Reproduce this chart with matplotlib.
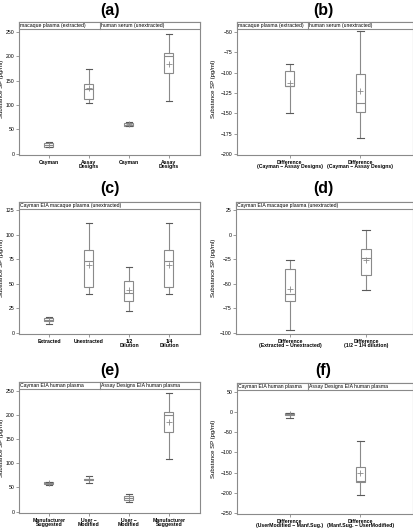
import matplotlib
matplotlib.use("Agg")
import matplotlib.pyplot as plt
from matplotlib.patches import Rectangle

plt.rcParams['font.family'] = ['Liberation Sans', 'DejaVu Sans']

# ---------------- data ----------------
# panel (a)
a_labels = ["Cayman", "Assay\nDesigns", "Cayman", "Assay\nDesigns"]
a_headers = ["macaque plasma (extracted)", "human serum (unextracted)"]
a_whislo = [13, 103, 56, 109]
a_q1 = [14, 113, 57, 165]
a_med = [17, 132, 59, 201]
a_q3 = [22, 144, 62, 206]
a_whishi = [24, 173, 64, 245]
a_mean = [18, 134, 60, 185]
a_yticks = [0, 50, 100, 150, 200, 250]

# panel (b)
b_labels = ["Difference\n(Cayman \u2212 Assay Designs)", "Difference\n(Cayman \u2212 Assay Designs)"]
b_headers = ["macaque plasma (extracted)", "human serum (unextracted)"]
b_whislo = [-149.5, -180]
b_q1 = [-117, -149]
b_med = [-116.5, -137]
b_q3 = [-98, -102]
b_whishi = [-89.5, -49]
b_mean = [-113, -123]
b_yticks = [-200, -175, -150, -125, -100, -75, -50]

# panel (c)
c_labels = ["Extracted", "Unextracted", "1/2\nDilution", "1/4\nDilution"]
c_headers = ["Cayman EIA macaque plasma (unextracted)"]
c_whislo = [9, 39.5, 22, 39.5]
c_q1 = [12, 46.5, 33, 46.5]
c_med = [13.6, 73.4, 40.4, 73.4]
c_q3 = [15.3, 84.2, 52.6, 84.2]
c_whishi = [16.6, 111.7, 67, 111.7]
c_mean = [13.2, 69.6, 43.8, 69.6]
c_yticks = [0, 25, 50, 75, 100, 125]

# panel (d)
d_labels = ["Difference\n(Extracted \u2212 Unextracted)", "Difference\n(1/2 \u2212 1/4 dilution)"]
d_headers = ["Cayman EIA macaque plasma (unextracted)"]
d_whislo = [-97, -56.3]
d_q1 = [-67.8, -41.4]
d_med = [-60.4, -24.1]
d_q3 = [-34.6, -14.3]
d_whishi = [-25.8, 4.7]
d_mean = [-55.3, -25.8]
d_yticks = [-100, -75, -50, -25, 0, 25]

# panel (e)
e_labels = ["Manufacturer\nSuggested", "User \u2212\nModified", "User \u2212\nModified", "Manufacturer\nSuggested"]
e_headers = ["Cayman EIA human plasma", "Assay Designs EIA human plasma"]
e_whislo = [55, 60, 20.7, 108]
e_q1 = [56.5, 66.5, 23.4, 164]
e_med = [58.5, 67, 29, 200]
e_q3 = [60.6, 67.5, 33, 205]
e_whishi = [62, 74, 35.8, 246]
e_mean = [58.5, 67, 27.5, 184.6]
e_yticks = [0, 50, 100, 150, 200, 250]

# panel (f)
f_labels = ["Difference\n(UserModified \u2212 Manf.Sug.)", "Difference\n(Manf.Sug. \u2212 UserModified)"]
f_headers = ["Cayman EIA human plasma", "Assay Designs EIA human plasma"]
f_whislo = [-14, -205]
f_q1 = [-6.5, -172]
f_med = [-5, -171]
f_q3 = [-2.7, -135]
f_whishi = [-2, -71]
f_mean = [-5, -150]
f_yticks = [-250, -200, -150, -100, -50, 0, 50]

# ---------------- layout ----------------
W, H = 414, 528
fig = plt.figure(figsize=(W / 100, H / 100), dpi=100)

GRAY = '#8a8a8a'
DARK = '#5a5a5a'
SMALL = 3.7


def ax_px(left, right, top, bottom):
    return fig.add_axes([left / W, 1 - bottom / H, (right - left) / W, (bottom - top) / H])


def panel(rect, title, title_x, title_y, ylabel_x, labels, headers, hdr_div, whislo, q1,
          med, q3, whishi, mean, yticks, ylim, xlim, boxw_px):
    ax = ax_px(*rect)
    n = len(labels)
    pos = list(range(1, n + 1))
    stats = []
    for i in range(n):
        stats.append(dict(med=med[i], q1=q1[i], q3=q3[i], whislo=whislo[i],
                          whishi=whishi[i], mean=mean[i], fliers=[]))
    ax_w_px = rect[1] - rect[0]
    unit_px = ax_w_px / (xlim[1] - xlim[0])
    bw = boxw_px / unit_px
    ax.bxp(stats, positions=pos, widths=bw, showmeans=True, meanline=False,
           showfliers=False, patch_artist=True,
           boxprops=dict(facecolor='white', edgecolor=GRAY, linewidth=0.8),
           medianprops=dict(color=GRAY, linewidth=0.8),
           whiskerprops=dict(color=GRAY, linewidth=0.8),
           capprops=dict(color=DARK, linewidth=0.8),
           capwidths=bw * 0.75,
           meanprops=dict(marker='+', markeredgecolor=GRAY, markersize=4,
                          markeredgewidth=0.6))
    ax.set_xlim(*xlim)
    ax.set_ylim(*ylim)
    ax.set_yticks(yticks)
    ax.set_yticklabels([str(t).replace('-', '\u2212') for t in yticks], fontsize=SMALL)
    ax.set_xticks(pos)
    ax.set_xticklabels(labels, fontsize=SMALL, fontweight='bold', linespacing=0.9)
    ax.tick_params(axis='both', length=2, width=0.6, color=GRAY, pad=1.5)
    for s in ax.spines.values():
        s.set_color(GRAY)
        s.set_linewidth(0.8)
    ax.set_ylabel("Substance SP (pg/ml)", fontsize=4.3)
    ax.yaxis.set_label_coords((ylabel_x - rect[0]) / ax_w_px, 0.5)
    # header strip
    hdr_h = 7 / (rect[3] - rect[2])
    ax.add_patch(Rectangle((0, 1 - hdr_h), 1, hdr_h, transform=ax.transAxes,
                           facecolor='white', edgecolor=GRAY, linewidth=0.8,
                           zorder=5, clip_on=False))
    starts = [0] + hdr_div
    for d in hdr_div:
        ax.plot([d, d], [1 - hdr_h, 1], transform=ax.transAxes, color=GRAY,
                linewidth=0.8, zorder=6, clip_on=False)
    for s, h in zip(starts, headers):
        ax.text(s + 0.006, 1 - hdr_h / 2, h, transform=ax.transAxes, fontsize=SMALL,
                ha='left', va='center', zorder=7)
    fig.text(title_x / W, 1 - title_y / H, title, fontsize=11.5, fontweight='bold',
             ha='center', va='center')
    return ax


panel((19, 200, 22, 155), "(a)", 110, 10, 4, a_labels, a_headers, [0.4475],
      a_whislo, a_q1, a_med, a_q3, a_whishi, a_mean, a_yticks, (-3, 270.5), (0.25, 4.775), 9)
panel((237, 413, 22, 155), "(b)", 323, 10, 216, b_labels, b_headers, [0.403],
      b_whislo, b_q1, b_med, b_q3, b_whishi, b_mean, b_yticks, (-201.3, -37.7), (0.25, 2.75), 9)
panel((19, 200, 202, 334), "(c)", 110, 188, 4, c_labels, c_headers, [],
      c_whislo, c_q1, c_med, c_q3, c_whishi, c_mean, c_yticks, (-1, 133.5), (0.25, 4.775), 9)
panel((236, 413, 202, 334), "(d)", 323, 188, 216, d_labels, d_headers, [],
      d_whislo, d_q1, d_med, d_q3, d_whishi, d_mean, d_yticks, (-101, 33), (0.29, 2.62), 10)
panel((19, 200, 382, 513), "(e)", 110, 370, 4, e_labels, e_headers, [0.4475],
      e_whislo, e_q1, e_med, e_q3, e_whishi, e_mean, e_yticks, (-2.7, 268), (0.25, 4.775), 9)
panel((237, 413, 383, 514), "(f)", 323, 370, 216, f_labels, f_headers, [0.403],
      f_whislo, f_q1, f_med, f_q3, f_whishi, f_mean, f_yticks, (-252, 71.4), (0.25, 2.75), 9)

fig.savefig("out.png", dpi=100)
